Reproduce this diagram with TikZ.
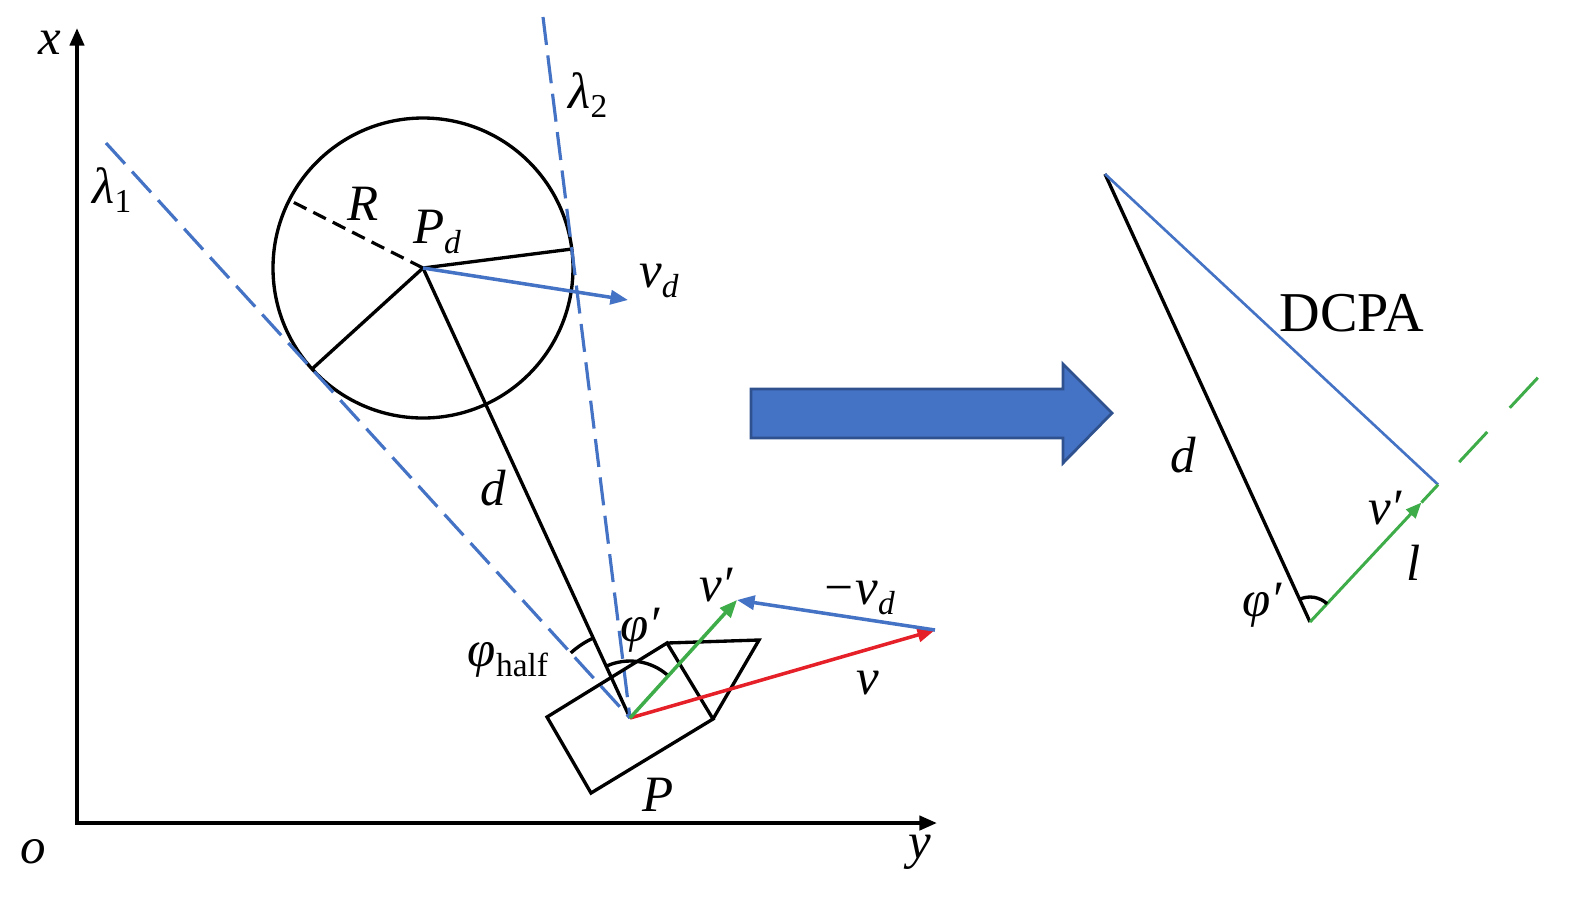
\documentclass[tikz,border=0pt]{standalone}
\usepackage{fontspec}
\setmainfont{Liberation Serif}
\usetikzlibrary{arrows.meta,calc}
\definecolor{myblue}{RGB}{68,114,196}
\definecolor{mygreen}{RGB}{62,172,72}
\definecolor{myred}{RGB}{230,32,40}
\definecolor{arrowedge}{RGB}{47,82,143}
\newcommand\sbs[1]{\raisebox{-2.8pt}{\fontsize{9.5}{10}\selectfont #1}}
\begin{document}
\begin{tikzpicture}[x=0.1mm,y=0.1mm,
  lab/.style={font=\fontsize{14.5}{16}\selectfont\itshape, inner sep=0pt},
  blk/.style={line width=0.95pt, black},
  axis/.style={line width=1.1pt, black, {Triangle[length=5pt,width=4pt]}-{Triangle[length=5pt,width=4pt]}},
  vec/.style={line width=1pt, -{Triangle[length=5pt,width=4pt]}},
  tangline/.style={myblue, line width=0.9pt, dash pattern=on 8pt off 3pt},
  shortdash/.style={line width=0.9pt, black, dash pattern=on 4pt off 2.2pt}]
\path[use as bounding box] (0,0) rectangle (1575,-896);
% axes
\coordinate (O) at (77,-823);
\coordinate (Xend) at (77,-28);
\coordinate (Yend) at (937,-823);
\draw[axis] (Xend) |- (Yend);
% key points
\coordinate (C) at (423,-268);
\coordinate (P) at (630,-718);
\coordinate (T1) at (312,-369);
\coordinate (T2) at (572,-249);
\coordinate (L1) at (106,-143);
\coordinate (L2) at (543,-17);
\coordinate (Rend) at (289,-200);
\coordinate (Vd) at (628,-300);
\coordinate (Vt) at (935,-630);
\coordinate (Vp) at (737,-600);
% obstacle circle
\node[circle, draw, line width=0.95pt, minimum size=30mm, inner sep=0pt] (obs) at (C) {};
\draw[shortdash] (C) -- (Rend);
\draw[blk] (C) -- (T1);
\draw[blk] (C) -- (T2);
\draw[blk] (C) -- (P);
% tangent lines
\draw[tangline] (L1) -- (P);
\draw[tangline] (L2) -- (P);
% ship
\coordinate (S1) at (547,-717);
\coordinate (S2) at (591,-793);
\coordinate (S3) at (713,-719);
\coordinate (S4) at (667,-643);
\coordinate (S5) at (759,-640);
\draw[blk, line join=miter] (S1) -- (S2) -- (S3) -- (S4) -- cycle;
\draw[blk, line join=miter] (S4) -- (S5) -- (S3);
% angle arcs
\draw[blk] ($(P)+(114.7:88)$) arc[start angle=114.7, end angle=132.3, radius=88];
\draw[blk] ($(P)+(47.8:57)$) arc[start angle=47.8, end angle=114.7, radius=57];
% vectors
\draw[vec, myblue] (C) -- (Vd);
\draw[vec, myred] (P) -- (Vt);
\draw[vec, mygreen] (P) -- (Vp);
\draw[vec, myblue] (Vt) -- (Vp);
% big arrow
\draw[fill=myblue, draw=arrowedge, line width=0.8pt, line join=miter] (751,-389) -- (1063,-389) -- (1063,-364) -- (1112,-413) -- (1063,-463) -- (1063,-438) -- (751,-438) -- cycle;
% right triangle
\coordinate (A) at (1105,-174);
\coordinate (B) at (1310,-622);
\coordinate (Gfar) at ($(B)+(47:340)$);
\coordinate (F) at ($(B)!(A)!(Gfar)$);
\coordinate (M) at ($(B)!0.87!(F)$);
\draw[blk] (B) -- (A);
\draw[myblue, line width=0.75pt] (A) -- (F);
\draw[mygreen, line width=0.85pt, -{Triangle[length=4.5pt,width=3.6pt]}] (B) -- (M);
\draw[mygreen, line width=0.85pt] (M) -- (F);
\draw[mygreen, line width=0.85pt, dash pattern=on 11.7pt off 9.4pt, dash phase=12.3pt] (F) -- (Gfar);
\draw[blk] ($(B)+(47:25)$) arc[start angle=47, end angle=114.6, radius=25];
% labels
\node[lab] (lx) at (50,-43) {x};
\node[lab] (lo) at (33,-852) {o};
\node[lab] (ly) at (920,-852) {y};
\node[lab] (l1) at (112,-190) {λ\sbs{\upshape 1}};
\node[lab] (l2) at (588,-95) {λ\sbs{\upshape 2}};
\node[lab] (lR) at (363,-204) {R};
\node[lab] (lPd) at (437,-232) {P\sbs{d}};
\node[lab] (lvd) at (659,-281) {v\sbs{d}};
\node[lab] (ld) at (493,-488) {d};
\node[lab] (lphih) at (508,-660) {φ\sbs{\upshape half}};
\node[lab] (lphip) at (640,-630) {φ′};
\node[lab] (lvp) at (716,-585) {v′};
\node[lab] (lmvd) at (858,-598) {−v\sbs{d}};
\node[lab] (lv) at (868,-683) {v};
\node[lab] (lP) at (658,-795) {P};
\node[font=\fontsize{16}{18}\selectfont, inner sep=0pt] (dcpa) at (1352,-313) {DCPA};
\node[lab] (ld2) at (1183,-455) {d};
\node[lab] (lvp2) at (1385,-508) {v′};
\node[lab] (ll) at (1414,-563) {l};
\node[lab] (lphi2) at (1262,-605) {φ′};
\end{tikzpicture}
\end{document}
